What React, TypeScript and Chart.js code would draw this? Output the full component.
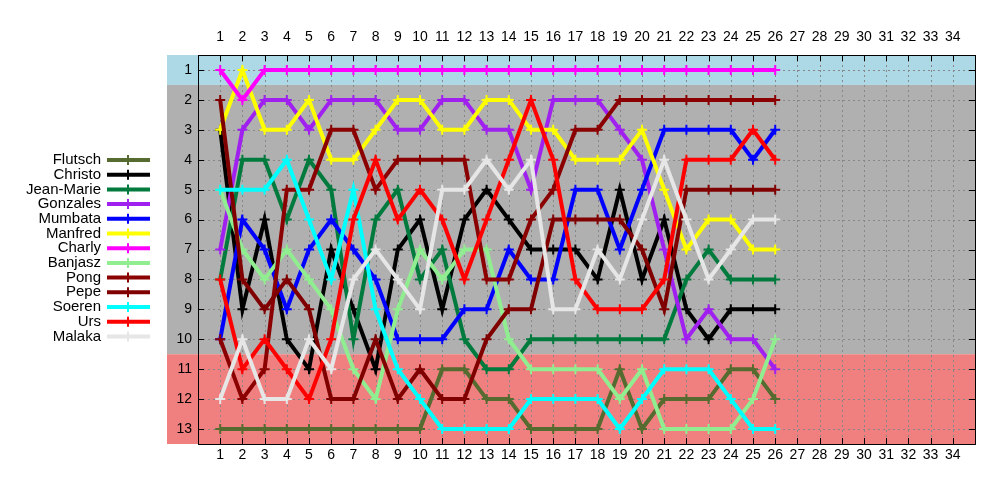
import React, { useEffect, useRef } from 'react';
import { Chart, registerables } from 'chart.js';

Chart.register(...registerables);

// ---------- data ----------
const rounds = [1, 2, 3, 4, 5, 6, 7, 8, 9, 10, 11, 12, 13, 14, 15, 16, 17, 18, 19, 20, 21, 22, 23, 24, 25, 26];
const xTickValues = [1, 2, 3, 4, 5, 6, 7, 8, 9, 10, 11, 12, 13, 14, 15, 16, 17, 18, 19, 20, 21, 22, 23, 24, 25, 26, 27, 28, 29, 30, 31, 32, 33, 34];
const yTickValues = [1, 2, 3, 4, 5, 6, 7, 8, 9, 10, 11, 12, 13];

const players = ['Flutsch', 'Christo', 'Jean-Marie', 'Gonzales', 'Mumbata', 'Manfred', 'Charly', 'Banjasz', 'Pong', 'Pepe', 'Soeren', 'Urs', 'Malaka'];

const flutsch = [13, 13, 13, 13, 13, 13, 13, 13, 13, 13, 11, 11, 12, 12, 13, 13, 13, 13, 11, 13, 12, 12, 12, 11, 11, 12];
const christo = [3, 9, 6, 10, 11, 7, 9, 11, 7, 6, 9, 6, 5, 6, 7, 7, 7, 8, 5, 8, 6, 9, 10, 9, 9, 9];
const jeanMarie = [8, 4, 4, 6, 4, 5, 10, 6, 5, 8, 7, 10, 11, 11, 10, 10, 10, 10, 10, 10, 10, 8, 7, 8, 8, 8];
const gonzales = [7, 3, 2, 2, 3, 2, 2, 2, 3, 3, 2, 2, 3, 3, 5, 2, 2, 2, 3, 4, 7, 10, 9, 10, 10, 11];
const mumbata = [10, 6, 7, 9, 7, 6, 7, 8, 10, 10, 10, 9, 9, 7, 8, 8, 5, 5, 7, 5, 3, 3, 3, 3, 4, 3];
const manfred = [3, 1, 3, 3, 2, 4, 4, 3, 2, 2, 3, 3, 2, 2, 3, 3, 4, 4, 4, 3, 5, 7, 6, 6, 7, 7];
const charly = [1, 2, 1, 1, 1, 1, 1, 1, 1, 1, 1, 1, 1, 1, 1, 1, 1, 1, 1, 1, 1, 1, 1, 1, 1, 1];
const banjasz = [5, 7, 8, 7, 8, 9, 11, 12, 9, 7, 8, 7, 7, 10, 11, 11, 11, 11, 12, 11, 13, 13, 13, 13, 12, 10];
const pong = [10, 12, 11, 5, 5, 3, 3, 5, 4, 4, 4, 4, 8, 8, 6, 5, 3, 3, 2, 2, 2, 2, 2, 2, 2, 2];
const pepe = [2, 8, 9, 8, 9, 12, 12, 10, 12, 11, 12, 12, 10, 9, 9, 6, 6, 6, 6, 7, 9, 5, 5, 5, 5, 5];
const soeren = [5, 5, 5, 4, 6, 8, 5, 9, 11, 12, 13, 13, 13, 13, 12, 12, 12, 12, 13, 12, 11, 11, 11, 12, 13, 13];
const urs = [8, 11, 10, 11, 12, 10, 6, 4, 6, 5, 6, 8, 6, 4, 2, 4, 8, 9, 9, 9, 8, 4, 4, 4, 3, 4];
const malaka = [12, 10, 12, 12, 10, 11, 8, 7, 8, 9, 5, 5, 4, 5, 4, 9, 9, 7, 8, 6, 4, 6, 8, 7, 6, 6];

const seriesValues = [flutsch, christo, jeanMarie, gonzales, mumbata, manfred, charly, banjasz, pong, pepe, soeren, urs, malaka];
const seriesColors = ['#556b2f', '#000000', '#007a3d', '#a020f0', '#0000ff', '#ffff00', '#ff00ff', '#90ee90', '#8b0000', '#800000', '#00ffff', '#ff0000', '#e6e6e6'];

// ---------- styling constants ----------
const FONT = '"Liberation Sans", Arial, sans-serif';
const BAND_LEFT = 167;

const bandsPlugin = {
  id: 'bands',
  beforeDraw(chart: any) {
    const { ctx, chartArea, scales } = chart;
    const y = scales.y;
    const bands: [number, number, string][] = [
      [0.5, 1.5, '#add8e6'],
      [1.5, 10.5, '#b0b0b0'],
      [10.5, 13.5, '#f08080'],
    ];
    ctx.save();
    bands.forEach(([a, b, c]) => {
      const y1 = y.getPixelForValue(a);
      const y2 = y.getPixelForValue(b);
      ctx.fillStyle = c;
      ctx.fillRect(BAND_LEFT, Math.min(y1, y2), chartArea.right - BAND_LEFT, Math.abs(y2 - y1));
    });
    ctx.restore();
  },
  beforeDatasetsDraw(chart: any) {
    const { ctx, chartArea, scales } = chart;
    ctx.save();
    ctx.strokeStyle = '#878787';
    ctx.lineWidth = 1;
    ctx.setLineDash([2, 3]);
    xTickValues.forEach((v) => {
      const px = Math.round(scales.x.getPixelForValue(v)) + 0.5;
      ctx.beginPath();
      ctx.moveTo(px, chartArea.top);
      ctx.lineTo(px, chartArea.bottom);
      ctx.stroke();
    });
    yTickValues.forEach((v) => {
      const py = Math.round(scales.y.getPixelForValue(v)) + 0.5;
      ctx.beginPath();
      ctx.moveTo(chartArea.left, py);
      ctx.lineTo(chartArea.right, py);
      ctx.stroke();
    });
    ctx.restore();
  },
  afterDraw(chart: any) {
    const { ctx, chartArea, scales } = chart;
    const { left, right, top, bottom } = chartArea;
    ctx.save();
    ctx.strokeStyle = '#000';
    ctx.lineWidth = 1;
    ctx.setLineDash([]);
    ctx.strokeRect(Math.round(left) + 0.5, Math.round(top) + 0.5, Math.round(right - left), Math.round(bottom - top));
    const tl = 6;
    xTickValues.forEach((v) => {
      const px = Math.round(scales.x.getPixelForValue(v)) + 0.5;
      ctx.beginPath();
      ctx.moveTo(px, top);
      ctx.lineTo(px, top + tl);
      ctx.moveTo(px, bottom);
      ctx.lineTo(px, bottom - tl);
      ctx.stroke();
    });
    yTickValues.forEach((v) => {
      const py = Math.round(scales.y.getPixelForValue(v)) + 0.5;
      ctx.beginPath();
      ctx.moveTo(left, py);
      ctx.lineTo(left + tl, py);
      ctx.moveTo(right, py);
      ctx.lineTo(right - tl, py);
      ctx.stroke();
    });

    // legend
    ctx.font = '15px ' + FONT;
    ctx.textAlign = 'right';
    ctx.textBaseline = 'middle';
    players.forEach((name, i) => {
      const ly = 160 + i * 14.7;
      ctx.fillStyle = '#000';
      ctx.fillText(name, 101, ly);
      ctx.strokeStyle = seriesColors[i];
      ctx.lineWidth = 4;
      ctx.beginPath();
      ctx.moveTo(107, ly);
      ctx.lineTo(150, ly);
      ctx.stroke();
      ctx.lineWidth = 2;
      ctx.beginPath();
      ctx.moveTo(128, ly - 5);
      ctx.lineTo(128, ly + 5);
      ctx.moveTo(123, ly);
      ctx.lineTo(133, ly);
      ctx.stroke();
    });
    ctx.restore();
  },
};

export default function App() {
  const canvasRef = useRef<HTMLCanvasElement | null>(null);

  useEffect(() => {
    if (!canvasRef.current) return;
    const n = players.length;
    const datasets = players.map((name, i) => ({
      label: name,
      data: rounds.map((r, j) => ({ x: r, y: seriesValues[i][j] })),
      borderColor: seriesColors[i],
      backgroundColor: seriesColors[i],
      borderWidth: 4,
      pointStyle: 'cross' as const,
      pointRadius: 5,
      pointBorderWidth: 2,
      pointBorderColor: seriesColors[i],
      tension: 0,
      fill: false,
      order: n - 1 - i,
    }));

    const tickFont = { family: FONT, size: 14 };
    const xTickCb = (v: any) => (xTickValues.includes(Number(v)) ? String(v) : '');
    const setXTicks = (scale: any) => {
      scale.ticks = xTickValues.map((v) => ({ value: v }));
    };

    const chart = new Chart(canvasRef.current, {
      type: 'line',
      data: { datasets },
      options: {
        responsive: false,
        animation: false,
        events: [],
        layout: { padding: { left: 158, right: 25, top: 0, bottom: 0 } },
        plugins: {
          legend: { display: false },
          tooltip: { enabled: false },
          title: { display: false },
        },
        scales: {
          x: {
            type: 'linear',
            position: 'bottom',
            min: 0,
            max: 35,
            afterBuildTicks: setXTicks,
            afterFit: (s: any) => { s.height = 56; },
            grid: { display: false, drawTicks: false },
            border: { display: false },
            ticks: { color: '#000', font: tickFont, padding: 3, autoSkip: false, maxRotation: 0, callback: xTickCb },
          },
          x2: {
            type: 'linear',
            position: 'top',
            min: 0,
            max: 35,
            afterBuildTicks: setXTicks,
            afterFit: (s: any) => { s.height = 55; },
            grid: { display: false, drawTicks: false },
            border: { display: false },
            ticks: { color: '#000', font: tickFont, padding: 9, autoSkip: false, maxRotation: 0, callback: xTickCb },
          },
          y: {
            type: 'linear',
            reverse: true,
            min: 0.5,
            max: 13.5,
            afterBuildTicks: (scale: any) => {
              scale.ticks = yTickValues.map((v) => ({ value: v }));
            },
            afterFit: (s: any) => { s.width = 40; },
            grid: { display: false, drawTicks: false },
            border: { display: false },
            ticks: { color: '#000', font: tickFont, padding: 6, autoSkip: false, callback: (v: any) => String(v) },
          },
        },
      } as any,
      plugins: [bandsPlugin],
    });
    return () => chart.destroy();
  }, []);

  return (
    <div style={{ position: 'absolute', left: 0, top: 0, width: 1000, height: 500, background: '#fff' }}>
      <canvas ref={canvasRef} width={1000} height={500} style={{ width: 1000, height: 500, display: 'block' }} />
    </div>
  );
}
